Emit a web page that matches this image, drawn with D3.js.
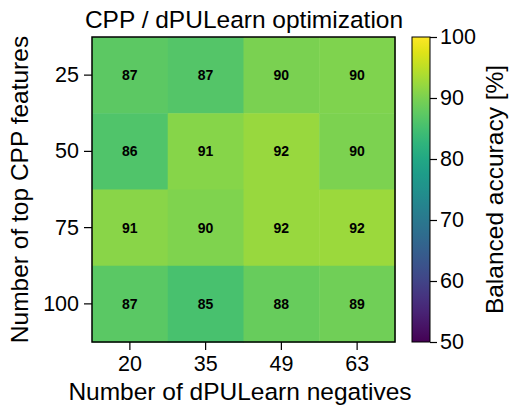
<!DOCTYPE html>
<html>
<head>
<meta charset="utf-8">
<style>
    body { margin: 0; background: white; }
    text { font-family: "Liberation Sans", Arial, sans-serif; fill: black; }
</style>
<script src="https://cdn.jsdelivr.net/npm/d3@7"></script>
</head>
<body>
<div id="chart"></div>
<script>
    var negatives = ['20', '35', '49', '63'];
    var features = ['25', '50', '75', '100'];
    // balanced accuracy [%], rows = features, cols = negatives
    var accuracy = [
        [87.4, 86.6, 90.0, 90.3],
        [86.2, 91.0, 92.3, 90.2],
        [91.2, 90.4, 92.2, 92.4],
        [87.3, 85.4, 88.4, 89.2]
    ];
    var cbarTicks = [50, 60, 70, 80, 90, 100];

    var W = 520, H = 416;
    var m = { left: 92, top: 37, right: 395, bottom: 342 };
    var tickFont = '21.5px', labelFont = '24.5px';

    var svg = d3.select('#chart').append('svg')
        .attr('width', W)
        .attr('height', H);

    var x = d3.scaleBand().domain(negatives).range([m.left, m.right]);
    var y = d3.scaleBand().domain(features).range([m.top, m.bottom]);
    var color = d3.scaleSequential(d3.interpolateViridis).domain([50, 100]);

    var cells = [];
    accuracy.forEach(function(row, i) {
        row.forEach(function(v, j) {
            cells.push({ f: features[i], n: negatives[j], v: v });
        });
    });

    svg.selectAll('rect.cell')
        .data(cells)
        .enter().append('rect')
        .attr('class', 'cell')
        .attr('x', function(d) { return x(d.n); })
        .attr('y', function(d) { return y(d.f); })
        .attr('width', x.bandwidth() + 0.5)
        .attr('height', y.bandwidth() + 0.5)
        .attr('fill', function(d) { return color(d.v); });

    svg.selectAll('text.val')
        .data(cells)
        .enter().append('text')
        .attr('class', 'val')
        .attr('x', function(d) { return x(d.n) + x.bandwidth() / 2; })
        .attr('y', function(d) { return y(d.f) + y.bandwidth() / 2; })
        .attr('dy', '0.35em')
        .attr('text-anchor', 'middle')
        .style('font-size', '14px')
        .style('font-weight', 'bold')
        .text(function(d) { return Math.round(d.v); });

    svg.append('rect')
        .attr('x', m.left).attr('y', m.top)
        .attr('width', m.right - m.left).attr('height', m.bottom - m.top)
        .attr('fill', 'none').attr('stroke', 'black').attr('stroke-width', 1.5);

    var xAxis = svg.append('g')
        .attr('transform', 'translate(0,' + m.bottom + ')')
        .call(d3.axisBottom(x).tickSize(8).tickPadding(6));
    var yAxis = svg.append('g')
        .attr('transform', 'translate(' + m.left + ',0)')
        .call(d3.axisLeft(y).tickSize(8).tickPadding(5));
    [xAxis, yAxis].forEach(function(a) {
        a.select('.domain').remove();
        a.selectAll('line').attr('stroke', 'black').attr('stroke-width', 1.2);
        a.selectAll('text').style('font-size', tickFont)
            .style('font-family', '"Liberation Sans", Arial, sans-serif').attr('fill', 'black');
    });

    svg.append('text')
        .attr('x', 244).attr('y', 28)
        .attr('text-anchor', 'middle')
        .style('font-size', labelFont)
        .text('CPP / dPULearn optimization');

    svg.append('text')
        .attr('x', 240).attr('y', 400)
        .attr('text-anchor', 'middle')
        .style('font-size', labelFont)
        .text('Number of dPULearn negatives');

    svg.append('text')
        .attr('transform', 'translate(28,' + (m.top + m.bottom) / 2 + ') rotate(-90)')
        .attr('text-anchor', 'middle')
        .style('font-size', labelFont)
        .text('Number of top CPP features');

    // colorbar
    var cb = { x: 412, w: 18 };
    var cy = d3.scaleLinear().domain([50, 100]).range([m.bottom, m.top]);
    var defs = svg.append('defs');
    var grad = defs.append('linearGradient')
        .attr('id', 'cbar').attr('x1', 0).attr('y1', 1).attr('x2', 0).attr('y2', 0);
    d3.range(0, 1.001, 0.05).forEach(function(t) {
        grad.append('stop').attr('offset', t).attr('stop-color', d3.interpolateViridis(t));
    });
    svg.append('rect')
        .attr('x', cb.x).attr('y', m.top)
        .attr('width', cb.w).attr('height', m.bottom - m.top)
        .attr('fill', 'url(#cbar)')
        .attr('stroke', 'black').attr('stroke-width', 1);

    var cAxis = svg.append('g')
        .attr('transform', 'translate(' + (cb.x + cb.w) + ',0)')
        .call(d3.axisRight(cy).tickValues(cbarTicks).tickSize(7).tickPadding(3));
    cAxis.select('.domain').remove();
    cAxis.selectAll('line').attr('stroke', 'black').attr('stroke-width', 1.2);
    cAxis.selectAll('text').style('font-size', tickFont)
        .style('font-family', '"Liberation Sans", Arial, sans-serif').attr('fill', 'black');

    svg.append('text')
        .attr('transform', 'translate(503,' + (m.top + m.bottom) / 2 + ') rotate(-90)')
        .attr('text-anchor', 'middle')
        .style('font-size', labelFont)
        .text('Balanced accuracy [%]');
</script>
</body>
</html>
